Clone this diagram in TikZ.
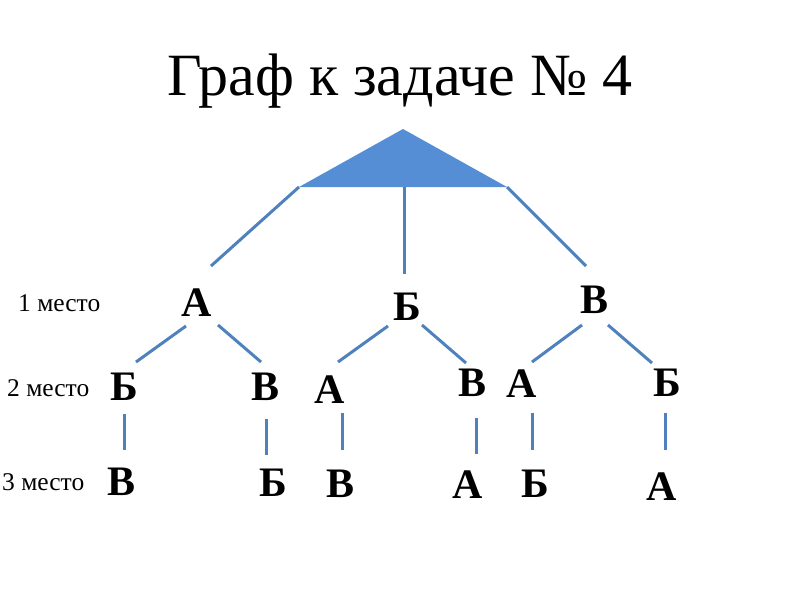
\documentclass[tikz,border=0pt]{standalone}
\usepackage{fontspec}
\setmainfont{Liberation Serif}
\definecolor{lineblue}{RGB}{79,129,189}
\definecolor{fillblue}{RGB}{85,142,213}
\begin{document}
\begin{tikzpicture}[x=1pt,y=-1pt,
  conn/.style={draw=lineblue,line width=3pt},
  letter/.style={font=\fontsize{42}{42}\selectfont\bfseries,inner sep=0pt},
  lvl/.style={font=\fontsize{25.5}{25.5}\selectfont,inner sep=0pt,anchor=west}]
\useasboundingbox (0,0) rectangle (800,600);
\node[font=\fontsize{60}{60}\selectfont,inner sep=0pt,anchor=base] (title) at (400,95) {Граф к задаче № 4};
% roof
\coordinate (apex) at (403,129);
\coordinate (bl) at (299,187);
\coordinate (br) at (507,187);
\coordinate (bm) at (404,187);
\fill[fillblue] (apex) -- (bl) -- (br) -- cycle;
\coordinate (e1) at (211,266);
\coordinate (e2) at (404,274);
\coordinate (e3) at (586,266);
\draw[conn] (bl) -- (e1);
\draw[conn] (bm) -- (e2);
\draw[conn] (br) -- (e3);
% level labels
\node[lvl] (l1) at (18,303) {1 место};
\node[lvl] (l2) at (7,388) {2 место};
\node[lvl] (l3) at (2,482) {3 место};
% level 1
\node[letter] (A) at (197,303) {А};
\node[letter] (B) at (407,307) {Б};
\node[letter] (V) at (594,300) {В};
% level 2
\node[letter] (AB) at (124,387) {Б};
\node[letter] (AV) at (266,387) {В};
\node[letter] (BA) at (330,390) {А};
\node[letter] (BV) at (473,383) {В};
\node[letter] (VA) at (522,384) {А};
\node[letter] (VB) at (667,383) {Б};
% level 3
\node[letter] (ABV) at (122,482) {В};
\node[letter] (AVB) at (273,483) {Б};
\node[letter] (BAV) at (341,484) {В};
\node[letter] (BVA) at (468,485) {А};
\node[letter] (VAB) at (535,484) {Б};
\node[letter] (VBA) at (662,487) {А};
% connectors level1-level2
\draw[conn] ([shift={(-11,23)}]A.center) -- ([shift={(12,-25)}]AB.center);
\draw[conn] ([shift={(21,22)}]A.center) -- ([shift={(-5,-25)}]AV.center);
\draw[conn] ([shift={(-19,19)}]B.center) -- ([shift={(8,-28)}]BA.center);
\draw[conn] ([shift={(15,18)}]B.center) -- ([shift={(-7,-20)}]BV.center);
\draw[conn] ([shift={(-12,25)}]V.center) -- ([shift={(10,-22)}]VA.center);
\draw[conn] ([shift={(14,25)}]V.center) -- ([shift={(-15,-20)}]VB.center);
% connectors level2-level3
\draw[conn] (AB.center |- 0,414) -- (AB.center |- 0,450);
\draw[conn] (AV.center |- 0,419) -- (AV.center |- 0,455);
\draw[conn] ([xshift=12pt]BA.center |- 0,413) -- ([xshift=12pt]BA.center |- 0,450);
\draw[conn] ([xshift=3pt]BV.center |- 0,418) -- ([xshift=3pt]BV.center |- 0,454);
\draw[conn] ([xshift=10pt]VA.center |- 0,413) -- ([xshift=10pt]VA.center |- 0,450);
\draw[conn] ([xshift=-2pt]VB.center |- 0,413) -- ([xshift=-2pt]VB.center |- 0,450);
\end{tikzpicture}
\end{document}
